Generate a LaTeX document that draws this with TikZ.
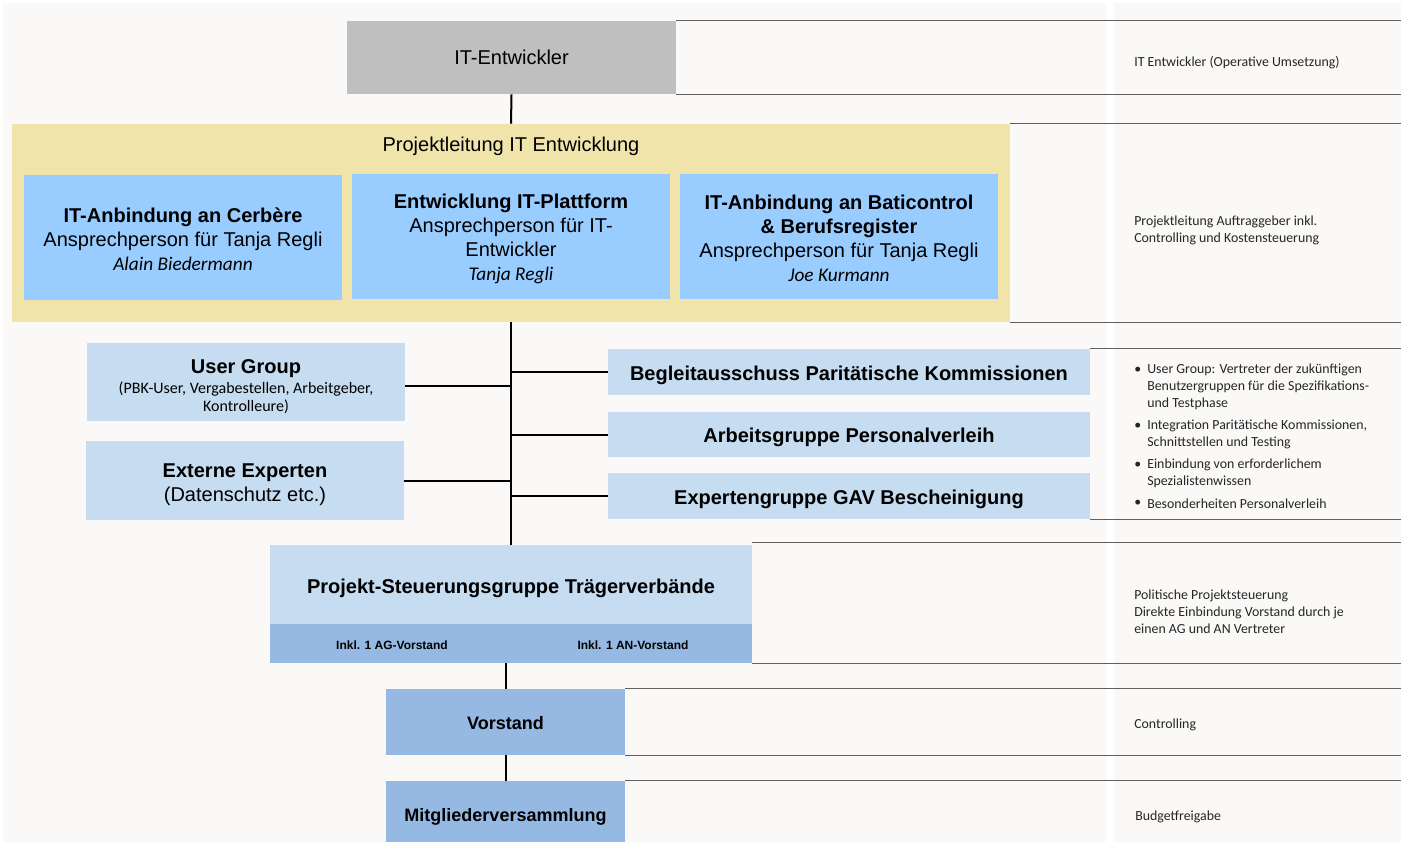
\documentclass[tikz,border=0pt]{standalone}
\usepackage{fontspec}
\setmainfont{Liberation Sans}
\newfontfamily\calib{Carlito}
\newcommand\nmfont{\calib\itshape\fontsize{14.5}{18}\selectfont}
\newcommand\subfont{\calib\fontsize{12}{13.5}\selectfont}
\newcommand\pushdown[1]{\rule{0pt}{#1}}
\definecolor{bg}{HTML}{FAF9F7}
\definecolor{greybox}{HTML}{BFBFBF}
\definecolor{yel}{HTML}{F0E4AA}
\definecolor{blueA}{HTML}{99CCFF}
\definecolor{blueB}{HTML}{C6DCF1}
\definecolor{blueC}{HTML}{95B9E3}
\definecolor{rline}{HTML}{5F5F5F}
\tikzset{
  box/.style={draw=none, inner sep=0pt, align=center, font=\fontsize{15}{18}\selectfont},
  sz/.style 2 args={minimum width=#1*0.75pt, minimum height=#2*0.75pt},
  conn/.style={draw=black, line width=1.5pt},
  rl/.style={draw=rline, line width=1.1pt},
  rtext/.style={anchor=west, inner sep=0pt, align=left, font=\calib\fontsize{10.4}{12.75}\selectfont, text=black!85}
}
\begin{document}
\begin{tikzpicture}[x=0.75pt,y=-0.75pt]
\useasboundingbox (0,0) rectangle (1401,842);
\fill[white] (0,0) rectangle (1401,842);
\fill[bg] (3,3) rectangle (1401,842);
\fill[white] (1106,0) rectangle (1114,842);
\coordinate (edge) at (1401,0);

% boxes
\node[box, sz={329}{73}, fill=greybox] (itent) at (511.5,57.5) {IT-Entwickler};
\node[box, sz={998}{198}, fill=yel] (yel) at (511,223) {};
\node[box, anchor=center] (pl) at (511,146) {Projektleitung IT Entwicklung};
\node[box, sz={318}{125}, fill=blueA] (b1) at (183,237.5) {\pushdown{13.9pt}{\bfseries IT-Anbindung an Cerbère}\\Ansprechperson für Tanja Regli\\{\nmfont Alain Biedermann}};
\node[box, sz={318}{125}, fill=blueA] (b2) at (511,236.5) {\pushdown{13.9pt}{\bfseries Entwicklung IT-Plattform}\\Ansprechperson für IT-\\Entwickler\\{\nmfont Tanja Regli}};
\node[box, sz={318}{125}, fill=blueA] (b3) at (839,236.5) {\pushdown{13.9pt}{\bfseries IT-Anbindung an Baticontrol}\\{\bfseries \& Berufsregister}\\Ansprechperson für Tanja Regli\\{\nmfont Joe Kurmann}};

\node[box, sz={318}{78}, fill=blueB] (ug) at (246,382) {\pushdown{16.9pt}{\bfseries User Group}\\[-3pt]{\subfont (PBK-User, Vergabestellen, Arbeitgeber,}\\[-4.5pt]{\subfont Kontrolleure)}};
\node[box, sz={318}{79}, fill=blueB] (ee) at (245,480.5) {\pushdown{16.9pt}{\bfseries Externe Experten}\\(Datenschutz etc.)};

\node[box, sz={482}{46}, fill=blueB, font=\bfseries\fontsize{15}{18}\selectfont] (bpk) at (849,372) {\pushdown{15.4pt}Begleitausschuss Paritätische Kommissionen};
\node[box, sz={482}{45}, fill=blueB, font=\bfseries\fontsize{15}{18}\selectfont] (apv) at (849,434.5) {\pushdown{15.4pt}Arbeitsgruppe Personalverleih};
\node[box, sz={482}{46}, fill=blueB, font=\bfseries\fontsize{15}{18}\selectfont] (gav) at (849,496) {\pushdown{15.4pt}Expertengruppe GAV Bescheinigung};

\node[box, sz={482}{79}, fill=blueB, font=\bfseries\fontsize{15}{18}\selectfont] (psg) at (511,584.5) {\pushdown{16.9pt}Projekt-Steuerungsgruppe Trägerverbände};
\node[box, sz={482}{39}, fill=blueC] (psgb) at (511,643.5) {};
\node[box, font=\bfseries\fontsize{9}{11}\selectfont] (ag) at (392,645) {Inkl. 1 AG-Vorstand};
\node[box, font=\bfseries\fontsize{9}{11}\selectfont] (an) at (633,645) {Inkl. 1 AN-Vorstand};

\node[box, sz={239}{66}, fill=blueC, font=\bfseries\fontsize{13.5}{16}\selectfont] (vor) at (505.5,722) {\pushdown{11.2pt}Vorstand};
\node[box, sz={239}{61}, fill=blueC, font=\bfseries\fontsize{13.5}{16}\selectfont] (mv) at (505.5,811.5) {\pushdown{17.2pt}Mitgliederversammlung};

% connectors
\draw[conn] (itent.south) -- (yel.north);
\draw[conn] (yel.south) -- (psg.north);
\draw[conn] ([yshift=-3pt]ug.east) -- ([yshift=-3pt]ug.east -| yel.south);
\draw[conn] (ee.east) -- (ee.east -| yel.south);
\draw[conn] (bpk.west -| yel.south) -- (bpk.west);
\draw[conn] (apv.west -| yel.south) -- (apv.west);
\draw[conn] (gav.west -| yel.south) -- (gav.west);
\draw[conn] (vor.north |- psgb.south) -- (vor.north);
\draw[conn] (vor.south) -- (mv.north);

% right-hand rule lines
\draw[rl] (itent.north east) -- (itent.north east -| edge);
\draw[rl] (itent.south east) -- (itent.south east -| edge);
\draw[rl] (yel.north east) -- (yel.north east -| edge);
\draw[rl] (yel.south east) -- (yel.south east -| edge);
\draw[rl] (bpk.north east) -- (bpk.north east -| edge);
\draw[rl] (gav.south east) -- (gav.south east -| edge);
\draw[rl] ([yshift=1.5pt]psg.north east) -- ([yshift=1.5pt]psg.north east -| edge);
\draw[rl] (psgb.south east) -- (psgb.south east -| edge);
\draw[rl] (vor.north east) -- (vor.north east -| edge);
\draw[rl] (vor.south east) -- (vor.south east -| edge);
\draw[rl] (mv.north east) -- (mv.north east -| edge);

% right-hand texts
\node[rtext] (t1) at (1134,63) {IT Entwickler (Operative Umsetzung)};
\node[rtext] (t2) at (1134,230.5) {Projektleitung Auftraggeber inkl.\\Controlling und Kostensteuerung};
\node[rtext] (u1) at (1134,370) {•};
\node[rtext] (v1) at (1147,387) {User Group: Vertreter der zukünftigen\\Benutzergruppen für die Spezifikations-\\und Testphase};
\node[rtext] (u2) at (1134,426) {•};
\node[rtext] (v2) at (1147,434.5) {Integration Paritätische Kommissionen,\\Schnittstellen und Testing};
\node[rtext] (u3) at (1134,465) {•};
\node[rtext] (v3) at (1147,473.5) {Einbindung von erforderlichem\\Spezialistenwissen};
\node[rtext] (u4) at (1134,503.5) {•};
\node[rtext] (v4) at (1147,503.5) {Besonderheiten Personalverleih};
\node[rtext] (t4) at (1134,612) {Politische Projektsteuerung\\Direkte Einbindung Vorstand durch je\\einen AG und AN Vertreter};
\node[rtext] (t5) at (1134,725) {Controlling};
\node[rtext] (t6) at (1135,817) {Budgetfreigabe};
\end{tikzpicture}
\end{document}
